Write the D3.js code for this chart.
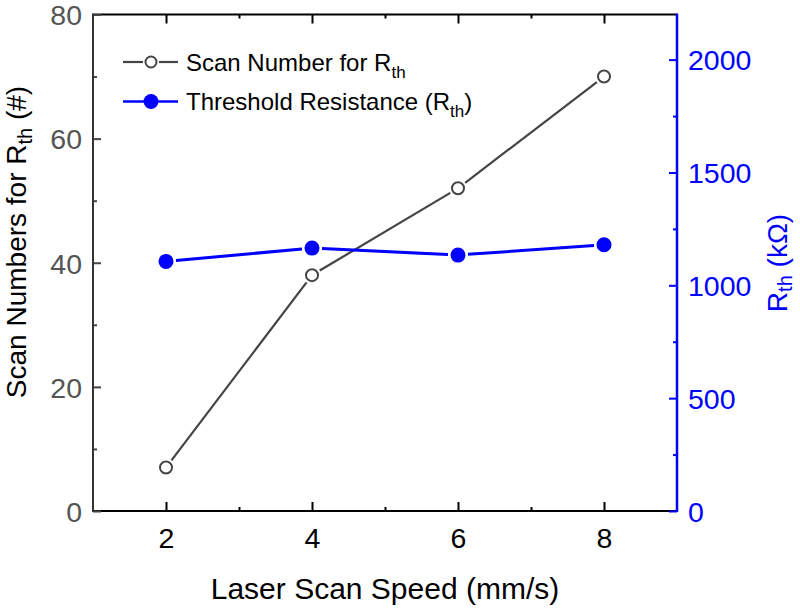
<!DOCTYPE html>
<html>
<head>
<meta charset="utf-8">
<script src="https://cdn.jsdelivr.net/npm/d3@7"></script>
<style>
html,body{margin:0;padding:0;background:#fff;}
svg{display:block;font-family:"Liberation Sans",Arial,sans-serif;}
</style>
</head>
<body>
<svg id="chart" width="800" height="609"></svg>
<script>
// ---- data ----
const speeds = [2, 4, 6, 8];
const scanNumbers = [7, 38, 52, 70];
const rthValues = [1106, 1165, 1134, 1180];
const xTicks = [2, 4, 6, 8];
const xMinorTicks = [3, 5, 7];
const leftTicks = [0, 20, 40, 60, 80];
const leftMinorTicks = [10, 30, 50, 70];
const rightTicks = [0, 500, 1000, 1500, 2000];
const rightMinorTicks = [250, 750, 1250, 1750];
const seriesNames = ["Scan Number for R", "Threshold Resistance (R"];

// ---- layout ----
const L = 93, R = 677, T = 14.5, B = 511;
const svg = d3.select("#chart");
const x = d3.scaleLinear().domain([1, 9]).range([L, R]);
const yL = d3.scaleLinear().domain([0, 80]).range([B, T]);
const yR = d3.scaleLinear().domain([0, 2200]).range([B, T]);

const gray = "#444";
const blue = "#0000ff";
const tickFont = 28.5;
const fmt = d3.format("d");

function styleAxis(g, color) {
  g.select(".domain").remove();
  g.selectAll(".tick line").attr("stroke", color).attr("stroke-width", 2);
  g.selectAll(".tick text").attr("font-size", tickFont).attr("font-family", "Liberation Sans, Arial, sans-serif");
}
function minor(g, color) {
  g.select(".domain").remove();
  g.selectAll(".tick line").attr("stroke", color).attr("stroke-width", 2);
}

// bottom axis
const gb = svg.append("g").attr("transform", `translate(0,${B})`)
  .call(d3.axisBottom(x).tickValues(xTicks).tickSize(-9).tickPadding(0).tickFormat(fmt));
styleAxis(gb, "#000");
gb.selectAll(".tick text").attr("y", 37).attr("dy", 0).attr("fill", "#000");
svg.append("g").attr("transform", `translate(0,${B})`)
  .call(d3.axisBottom(x).tickValues(xMinorTicks).tickSize(-4).tickFormat(""))
  .call(g => minor(g, "#000"));

// top axis (ticks only)
svg.append("g").attr("transform", `translate(0,${T})`)
  .call(d3.axisTop(x).tickValues(xTicks).tickSize(-9).tickFormat(""))
  .call(g => minor(g, "#000"));
svg.append("g").attr("transform", `translate(0,${T})`)
  .call(d3.axisTop(x).tickValues(xMinorTicks).tickSize(-4).tickFormat(""))
  .call(g => minor(g, "#000"));

// frame lines
svg.append("line").attr("x1", L).attr("x2", R).attr("y1", T).attr("y2", T).attr("stroke", "#000").attr("stroke-width", 2);
svg.append("line").attr("x1", L).attr("x2", R).attr("y1", B).attr("y2", B).attr("stroke", "#000").attr("stroke-width", 2);

// left axis
const gl = svg.append("g").attr("transform", `translate(${L},0)`)
  .call(d3.axisLeft(yL).tickValues(leftTicks).tickSize(-8).tickPadding(11).tickFormat(fmt));
styleAxis(gl, gray);
gl.selectAll(".tick text").attr("fill", "#555").attr("dy", "0.36em");
svg.append("g").attr("transform", `translate(${L},0)`)
  .call(d3.axisLeft(yL).tickValues(leftMinorTicks).tickSize(-4).tickFormat(""))
  .call(g => minor(g, gray));
svg.append("line").attr("x1", L).attr("x2", L).attr("y1", T - 1).attr("y2", B + 1).attr("stroke", "#333").attr("stroke-width", 2);

// right axis
const gr = svg.append("g").attr("transform", `translate(${R},0)`)
  .call(d3.axisRight(yR).tickValues(rightTicks).tickSize(-8).tickPadding(11).tickFormat(fmt));
styleAxis(gr, blue);
gr.selectAll(".tick text").attr("fill", blue).attr("dy", "0.36em");
svg.append("g").attr("transform", `translate(${R},0)`)
  .call(d3.axisRight(yR).tickValues(rightMinorTicks).tickSize(-4).tickFormat(""))
  .call(g => minor(g, blue));
svg.append("line").attr("x1", R).attr("x2", R).attr("y1", T - 1).attr("y2", B + 1).attr("stroke", blue).attr("stroke-width", 2.5);

// ---- series lines with gaps at markers ----
function gappedSegments(xs, ys, sx, sy, gap) {
  const segs = [];
  for (let i = 0; i < xs.length - 1; i++) {
    const x1 = sx(xs[i]), y1 = sy(ys[i]), x2 = sx(xs[i + 1]), y2 = sy(ys[i + 1]);
    const len = Math.hypot(x2 - x1, y2 - y1);
    const ux = (x2 - x1) / len, uy = (y2 - y1) / len;
    segs.push([x1 + ux * gap, y1 + uy * gap, x2 - ux * gap, y2 - uy * gap]);
  }
  return segs;
}

svg.append("g").selectAll("line")
  .data(gappedSegments(speeds, scanNumbers, x, yL, 9))
  .join("line")
  .attr("x1", d => d[0]).attr("y1", d => d[1]).attr("x2", d => d[2]).attr("y2", d => d[3])
  .attr("stroke", gray).attr("stroke-width", 2.2);

svg.append("g").selectAll("line")
  .data(gappedSegments(speeds, rthValues, x, yR, 10))
  .join("line")
  .attr("x1", d => d[0]).attr("y1", d => d[1]).attr("x2", d => d[2]).attr("y2", d => d[3])
  .attr("stroke", blue).attr("stroke-width", 3);

svg.append("g").selectAll("circle")
  .data(speeds.map((s, i) => [s, scanNumbers[i]]))
  .join("circle")
  .attr("cx", d => x(d[0])).attr("cy", d => yL(d[1])).attr("r", 6)
  .attr("fill", "#fff").attr("stroke", gray).attr("stroke-width", 2);

svg.append("g").selectAll("circle")
  .data(speeds.map((s, i) => [s, rthValues[i]]))
  .join("circle")
  .attr("cx", d => x(d[0])).attr("cy", d => yR(d[1])).attr("r", 7.5)
  .attr("fill", blue);

// ---- legend ----
const leg = svg.append("g");
const legY = [62, 101.5];
leg.append("line").attr("x1", 123).attr("x2", 143).attr("y1", legY[0]).attr("y2", legY[0]).attr("stroke", gray).attr("stroke-width", 2.2);
leg.append("line").attr("x1", 159).attr("x2", 178).attr("y1", legY[0]).attr("y2", legY[0]).attr("stroke", gray).attr("stroke-width", 2.2);
leg.append("circle").attr("cx", 151).attr("cy", legY[0]).attr("r", 5.5).attr("fill", "#fff").attr("stroke", gray).attr("stroke-width", 2);
const t1 = leg.append("text").attr("x", 186).attr("y", legY[0] + 8.5).attr("font-size", 24).attr("fill", "#000");
t1.append("tspan").text(seriesNames[0]);
t1.append("tspan").attr("font-size", 17).attr("dy", 7).text("th");

leg.append("line").attr("x1", 123).attr("x2", 178).attr("y1", legY[1]).attr("y2", legY[1]).attr("stroke", blue).attr("stroke-width", 2.5);
leg.append("circle").attr("cx", 151).attr("cy", legY[1]).attr("r", 7.5).attr("fill", blue);
const t2 = leg.append("text").attr("x", 186).attr("y", legY[1] + 8.5).attr("font-size", 24).attr("fill", "#000");
t2.append("tspan").text(seriesNames[1]);
t2.append("tspan").attr("font-size", 17).attr("dy", 7).text("th");
t2.append("tspan").attr("dy", -7).text(")");

// ---- axis titles ----
svg.append("text").attr("x", (L + R) / 2).attr("y", 599).attr("text-anchor", "middle")
  .attr("font-size", 30).attr("fill", "#000").text("Laser Scan Speed (mm/s)");

const ly = svg.append("text").attr("transform", "translate(26,242) rotate(-90)")
  .attr("text-anchor", "middle").attr("font-size", 28).attr("fill", "#000");
ly.append("tspan").text("Scan Numbers for R");
ly.append("tspan").attr("font-size", 20).attr("dy", 6).text("th");
ly.append("tspan").attr("dy", -6).text(" (#)");

const ry = svg.append("text").attr("transform", "translate(787,263) rotate(-90)")
  .attr("text-anchor", "middle").attr("font-size", 28).attr("fill", blue);
ry.append("tspan").text("R");
ry.append("tspan").attr("font-size", 20).attr("dy", 5).text("th");
ry.append("tspan").attr("dy", -5).text(" (kΩ)");
</script>
</body>
</html>
